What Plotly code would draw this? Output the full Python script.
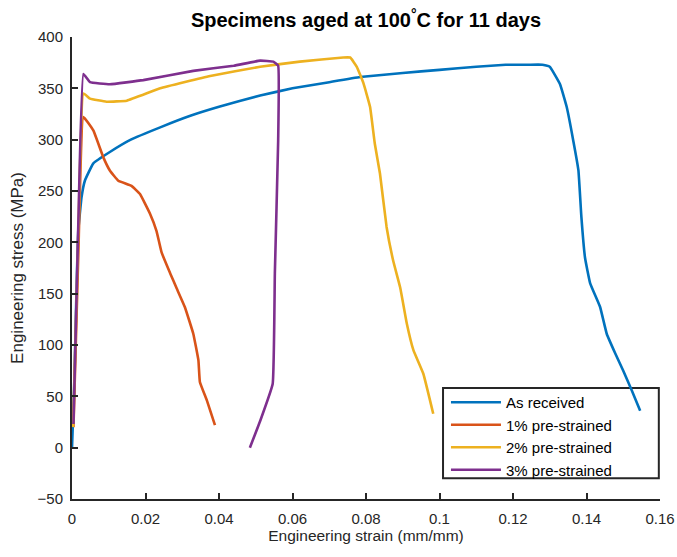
import plotly.graph_objects as go

# As received
ar_x = [0.0, 0.0006, 0.0012, 0.0017, 0.0026, 0.0035, 0.0058, 0.0103, 0.016, 0.024, 0.032, 0.040,
        0.0512, 0.060, 0.070, 0.0784, 0.090, 0.100, 0.110, 0.118, 0.124, 0.128, 0.130,
        0.1328, 0.1346, 0.1364, 0.1378, 0.1386, 0.1396, 0.1410, 0.1437, 0.1455, 0.1478,
        0.1500, 0.1523, 0.1546]
ar_y = [0, 60, 150, 211, 244, 260, 277, 288, 300, 312, 323, 332,
        343, 350, 356, 361, 365, 368, 371, 373, 373, 373, 371,
        354, 332, 299, 270, 225, 185, 160, 137, 111, 92,
        75, 56, 36]

# 1% pre-strained
p1_x = [0.0004, 0.0018, 0.0031, 0.0058, 0.0085, 0.0103, 0.0126, 0.0162, 0.0185, 0.0212,
        0.0230, 0.0244, 0.0267, 0.0285, 0.0307, 0.0330, 0.0344, 0.0348, 0.0367, 0.0389]
p1_y = [20, 200, 322, 309, 283, 270, 260, 255, 247, 228,
        211, 190, 170, 155, 137, 111, 85, 64, 46, 22]

# 2% pre-strained
p2_x = [0.0003, 0.0018, 0.0031, 0.0049, 0.0094, 0.0149, 0.024, 0.0376, 0.0512, 0.062,
        0.0738, 0.0757, 0.0775, 0.0793, 0.0811, 0.0824, 0.0838, 0.0856, 0.0874, 0.0893,
        0.0911, 0.0929, 0.0956, 0.0983]
p2_y = [20, 220, 345, 340, 337, 338, 350, 362, 371, 376,
        380, 380, 371, 355, 332, 296, 267, 215, 182, 156,
        121, 95, 72, 33]

# 3% pre-strained
p3_x = [0.0004, 0.0018, 0.0031, 0.0049, 0.0103, 0.0194, 0.033, 0.0440, 0.0512, 0.0548,
        0.0561, 0.0561, 0.0552, 0.0546, 0.0512, 0.0484]
p3_y = [23, 230, 364, 356, 354, 358, 367, 372, 377, 376,
        372, 299, 170, 62, 26, 0]

series = [
    ("As received", ar_x, ar_y, "#0072BD"),
    ("1% pre-strained", p1_x, p1_y, "#D95319"),
    ("2% pre-strained", p2_x, p2_y, "#EDB120"),
    ("3% pre-strained", p3_x, p3_y, "#7E2F8E"),
]

x_ticks = [0, 0.02, 0.04, 0.06, 0.08, 0.1, 0.12, 0.14, 0.16]
x_tick_labels = ["0", "0.02", "0.04", "0.06", "0.08", "0.1", "0.12", "0.14", "0.16"]
y_ticks = [-50, 0, 50, 100, 150, 200, 250, 300, 350, 400]

FONT = "Liberation Sans, Arial"

fig = go.Figure()
for name, xs, ys, col in series:
    fig.add_trace(go.Scatter(x=xs, y=ys, mode="lines", name=name,
                             line=dict(color=col, width=2.6, shape="spline", smoothing=0.3)))

axis_common = dict(showgrid=False, zeroline=False, showline=True, linecolor="#262626",
                   linewidth=2, ticks="inside", ticklen=6, tickwidth=2, tickcolor="#262626",
                   tickfont=dict(family=FONT, size=15, color="#262626"),
                   mirror=False, automargin=False)

# legend frame (drawn behind the curves, as in the reference)
fig.add_shape(type="rect", xref="paper", yref="paper",
              x0=0.631, x1=0.998, y0=0.045, y1=0.240,
              line=dict(color="#262626", width=2), fillcolor="white", layer="below")

fig.update_layout(
    width=677, height=557,
    margin=dict(l=72, r=17, t=37, b=58, autoexpand=False),
    paper_bgcolor="white", plot_bgcolor="white",
    title=dict(text="<b>Specimens aged at 100<sup>°</sup>C for 11 days</b>",
               x=0.5, xanchor="center", xref="paper", y=1 - 20 / 557, yanchor="middle",
               yref="container", automargin=False,
               font=dict(family=FONT, size=20, color="black")),
    xaxis=dict(range=[0, 0.16], tickvals=x_ticks, ticktext=x_tick_labels,
               ticklabelstandoff=5,
               title=dict(text="Engineering strain (mm/mm)", standoff=2,
                          font=dict(family=FONT, size=15.5, color="#262626")),
               **axis_common),
    yaxis=dict(range=[-50, 400], tickvals=y_ticks, ticklabelstandoff=4,
               title=dict(text="Engineering stress (MPa)", standoff=10,
                          font=dict(family=FONT, size=17, color="#262626")),
               **axis_common),
    legend=dict(x=0.636, y=0.2445, xanchor="left", yanchor="top",
                bgcolor="rgba(0,0,0,0)", borderwidth=0,
                font=dict(family=FONT, size=15, color="black"),
                itemwidth=50, tracegroupgap=0),
    showlegend=True,
)

fig.write_html("out.html", config={"displayModeBar": False},
               post_script="document.body.style.margin='0';document.body.style.overflow='hidden';")
